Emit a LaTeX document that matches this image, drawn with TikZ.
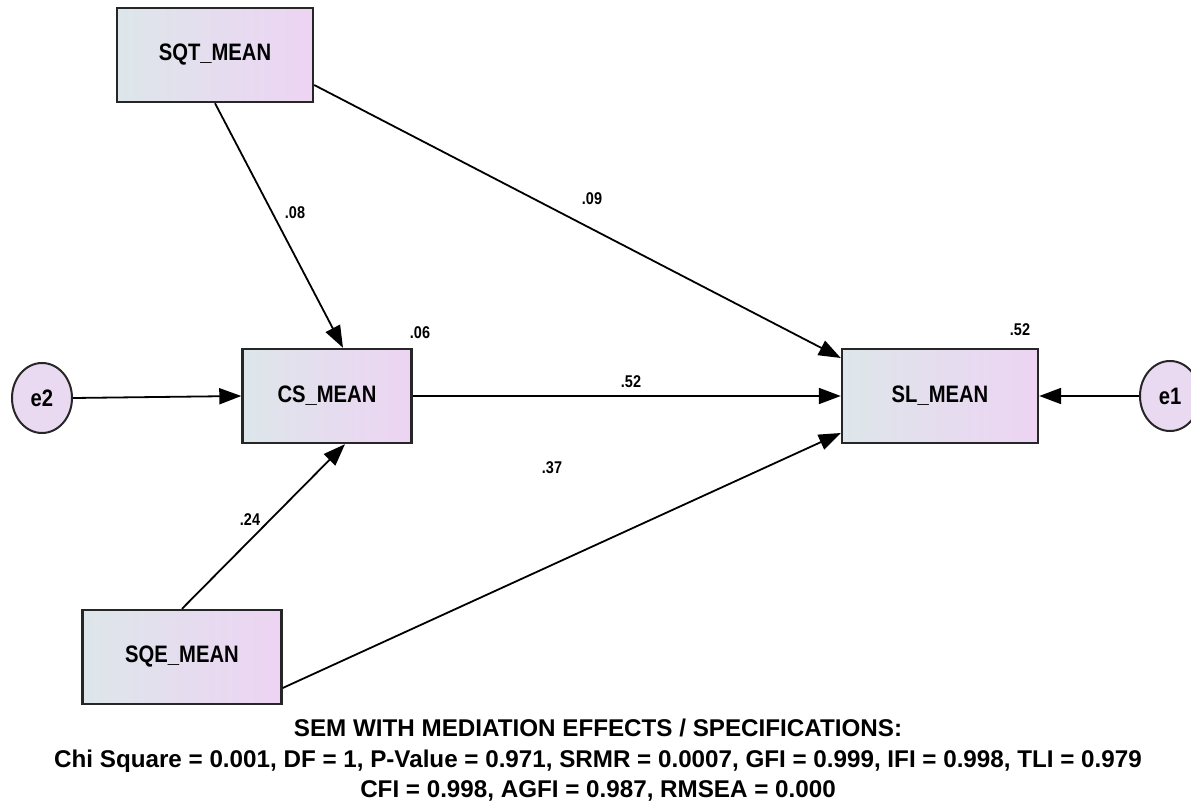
\documentclass[tikz,border=0pt]{standalone}
\usepackage{fontspec}
\setmainfont{Liberation Sans}[FakeStretch=0.85]
\newfontfamily\fitfont{Liberation Sans}
\usetikzlibrary{arrows.meta,calc,shapes.geometric}
\definecolor{boxleft}{HTML}{DDE6EA}
\definecolor{boxright}{HTML}{EDD4F3}
\definecolor{errfill}{HTML}{E9DAF1}

\begin{document}
\begin{tikzpicture}[x=0.5pt,y=-0.5pt,
  var/.style={draw=black!85,line width=1.2pt,minimum width=98pt,minimum height=47pt,
    left color=boxleft,right color=boxright,inner sep=0pt,
    font=\bfseries\fontsize{11.9}{14}\selectfont},
  err/.style={ellipse,draw=black!85,line width=1pt,fill=errfill,minimum width=30pt,
    minimum height=35pt,inner sep=0pt,font=\bfseries\fontsize{11.9}{14}\selectfont},
  est/.style={font=\bfseries\fontsize{8.5}{10}\selectfont},
  path/.style={line width=0.9pt,-{Triangle[length=11pt,width=8pt]}},
  fit/.style={anchor=base,inner sep=0pt,font=\fitfont\bfseries\fontsize{12.1}{14}\selectfont}]
  \useasboundingbox (0,0) rectangle (1191,803);
  \clip (0,0) rectangle (1191,803);
  % variables
  \node[var] (sqt) at (215,55) {SQT\_MEAN};
  \node[var,minimum width=84.5pt] (cs) at (327,396) {CS\_MEAN};
  \node[var] (sl) at (940,396) {SL\_MEAN};
  \node[var,minimum width=99.5pt] (sqe) at (182,657) {SQE\_MEAN};
  \node[err] (e2) at (42,398) {e2};
  \node[err] (e1) at (1170,396) {e1};
  % paths
  \draw[path] (sqt.south) -- ($(cs.north)+(16,0)$);
  \draw[path] ($(sqt.east)+(0,30)$) -- ($(sl.west)+(0,-38)$);
  \draw[path] (e2.east) -- (cs.west);
  \draw[path] (cs.east) -- (sl.west);
  \draw[path] (sqe.north) -- ($(cs.south)+(18,0)$);
  \draw[path] ($(sqe.east)+(0,31)$) -- ($(sl.west)+(0,37)$);
  \draw[path] (e1.west) -- (sl.east);
  % estimates
  \node[est] (b1) at (295,213) {.08};
  \node[est] (b2) at (592,199) {.09};
  \node[est] (b3) at (631,382) {.52};
  \node[est] (b4) at (250,520) {.24};
  \node[est] (b5) at (552,468) {.37};
  \node[est] (r1) at (420,333) {.06};
  \node[est] (r2) at (1020,330) {.52};
  % fit indices
  \node[fit] (t1) at (598,736) {SEM WITH MEDIATION EFFECTS / SPECIFICATIONS:};
  \node[fit] (t2) at (598,767) {Chi Square = 0.001, DF = 1, P-Value = 0.971, SRMR = 0.0007, GFI = 0.999, IFI = 0.998, TLI = 0.979};
  \node[fit] (t3) at (598,797) {CFI = 0.998, AGFI = 0.987, RMSEA = 0.000};
\end{tikzpicture}
\end{document}
